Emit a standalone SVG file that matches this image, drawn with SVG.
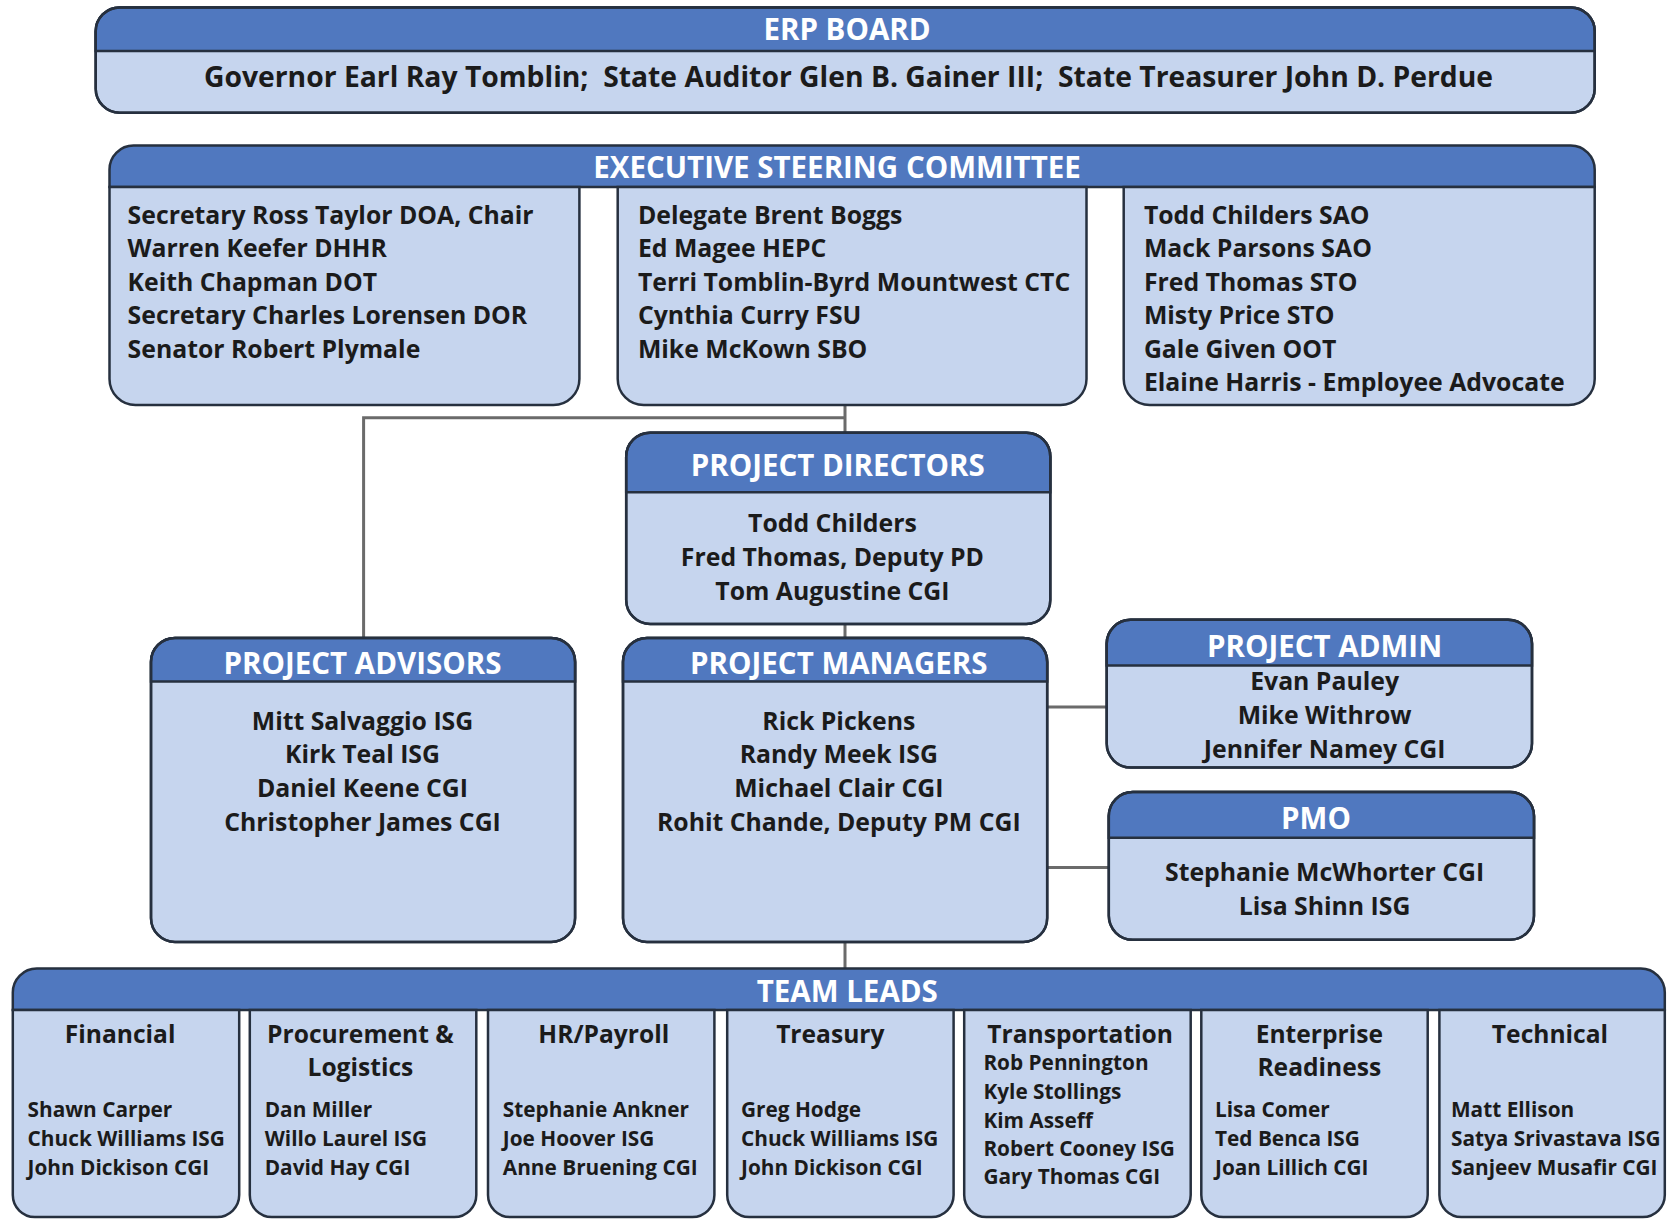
<svg xmlns="http://www.w3.org/2000/svg" width="1667" height="1219" viewBox="0 0 1667 1219">
<style>
.bd{fill:#c6d5ee;stroke:#26303f;stroke-width:2.5}
.hd{fill:#5078bf;stroke:#26303f;stroke-width:2.5}
.ol{fill:none;stroke:#26303f;stroke-width:2.5}
.ht{font-family:"Open Sans",Lato,sans-serif;font-weight:700;fill:#ffffff;font-size:29.5px;text-anchor:middle}
.nm{font-family:"Open Sans",Lato,sans-serif;font-weight:700;fill:#1b1b1b;font-size:24.8px}
.c{text-anchor:middle}
.tl{font-family:"Open Sans",Lato,sans-serif;font-weight:700;fill:#1b1b1b;font-size:20.8px}
.th{font-family:"Open Sans",Lato,sans-serif;font-weight:700;fill:#1b1b1b;font-size:24.6px;text-anchor:middle}
.conn{stroke:#6b6b6b;stroke-width:3;fill:none}
</style>
<rect width="1667" height="1219" fill="#ffffff"/>

<g id="connectors">
<path class="conn" d="M845,405 V433 M845,417.8 H363.6 V638 M845,624 V638 M1047,707 H1107 M1047,867.5 H1109 M845,942 V968.5"/>
</g>

<g id="erp-board">
<rect class="bd" x="95.7" y="7.4" width="1499" height="105.3" rx="24"/>
<path class="hd" d="M95.7,51 V31.4 A24,24 0 0 1 119.7,7.4 H1570.7 A24,24 0 0 1 1594.7,31.4 V51 Z"/>
<rect class="ol" x="95.7" y="7.4" width="1499" height="105.3" rx="24"/>
<text class="ht" x="847" y="40">ERP BOARD</text>
<text class="nm c" x="848.5" y="86.5" style="font-size:28.3px" xml:space="preserve">Governor Earl Ray Tomblin;  State Auditor Glen B. Gainer III;  State Treasurer John D. Perdue</text>
</g>

<g id="executive-steering-committee">
<path class="hd" d="M109.5,187.1 V169.6 A24,24 0 0 1 133.5,145.6 H1570.7 A24,24 0 0 1 1594.7,169.6 V187.1 Z"/>
<path class="bd" d="M109.5,187.1 H579.4 V379 A26,26 0 0 1 553.4,405 H135.5 A26,26 0 0 1 109.5,379 Z"/>
<path class="bd" d="M617.7,187.1 H1086.5 V379 A26,26 0 0 1 1060.5,405 H643.7 A26,26 0 0 1 617.7,379 Z"/>
<path class="bd" d="M1123.7,187.1 H1594.7 V379 A26,26 0 0 1 1568.7,405 H1149.7 A26,26 0 0 1 1123.7,379 Z"/>
<text class="ht" x="837" y="177.5">EXECUTIVE STEERING COMMITTEE</text>
<text class="nm" x="127.6" y="223.5">Secretary Ross Taylor DOA, Chair</text>
<text class="nm" x="127.6" y="257">Warren Keefer DHHR</text>
<text class="nm" x="127.6" y="290.5">Keith Chapman DOT</text>
<text class="nm" x="127.6" y="324">Secretary Charles Lorensen DOR</text>
<text class="nm" x="127.6" y="357.5">Senator Robert Plymale</text>
<text class="nm" x="637.9" y="223.5">Delegate Brent Boggs</text>
<text class="nm" x="637.9" y="257">Ed Magee HEPC</text>
<text class="nm" x="637.9" y="290.5">Terri Tomblin-Byrd Mountwest CTC</text>
<text class="nm" x="637.9" y="324">Cynthia Curry FSU</text>
<text class="nm" x="637.9" y="357.5">Mike McKown SBO</text>
<text class="nm" x="1143.9" y="223.5">Todd Childers SAO</text>
<text class="nm" x="1143.9" y="257">Mack Parsons SAO</text>
<text class="nm" x="1143.9" y="290.5">Fred Thomas STO</text>
<text class="nm" x="1143.9" y="324">Misty Price STO</text>
<text class="nm" x="1143.9" y="357.5">Gale Given OOT</text>
<text class="nm" x="1143.9" y="391">Elaine Harris - Employee Advocate</text>
</g>

<g id="project-directors">
<rect class="bd" x="626.2" y="432.7" width="424.1" height="191.3" rx="24"/>
<path class="hd" d="M626.2,492.2 V456.7 A24,24 0 0 1 650.2,432.7 H1026.3 A24,24 0 0 1 1050.3,456.7 V492.2 Z"/>
<rect class="ol" x="626.2" y="432.7" width="424.1" height="191.3" rx="24"/>
<text class="ht" x="837.7" y="476">PROJECT DIRECTORS</text>
<text class="nm c" x="832.4" y="532">Todd Childers</text>
<text class="nm c" x="832.4" y="566">Fred Thomas, Deputy PD</text>
<text class="nm c" x="832.4" y="600">Tom Augustine CGI</text>
</g>

<g id="project-advisors">
<rect class="bd" x="151" y="637.9" width="424.1" height="304" rx="24"/>
<path class="hd" d="M151,681.4 V661.9 A24,24 0 0 1 175,637.9 H551.1 A24,24 0 0 1 575.1,661.9 V681.4 Z"/>
<rect class="ol" x="151" y="637.9" width="424.1" height="304" rx="24"/>
<text class="ht" x="362.5" y="673.5">PROJECT ADVISORS</text>
<text class="nm c" x="362.5" y="729.5">Mitt Salvaggio ISG</text>
<text class="nm c" x="362.5" y="763">Kirk Teal ISG</text>
<text class="nm c" x="362.5" y="797">Daniel Keene CGI</text>
<text class="nm c" x="362.5" y="831">Christopher James CGI</text>
</g>

<g id="project-managers">
<rect class="bd" x="623" y="637.9" width="424.2" height="304" rx="24"/>
<path class="hd" d="M623,681.4 V661.9 A24,24 0 0 1 647,637.9 H1023.2 A24,24 0 0 1 1047.2,661.9 V681.4 Z"/>
<rect class="ol" x="623" y="637.9" width="424.2" height="304" rx="24"/>
<text class="ht" x="838.8" y="673.5">PROJECT MANAGERS</text>
<text class="nm c" x="838.8" y="729.5">Rick Pickens</text>
<text class="nm c" x="838.8" y="763">Randy Meek ISG</text>
<text class="nm c" x="838.8" y="797">Michael Clair CGI</text>
<text class="nm c" x="838.8" y="831">Rohit Chande, Deputy PM CGI</text>
</g>

<g id="project-admin">
<rect class="bd" x="1106.7" y="619.8" width="425.3" height="147.8" rx="24"/>
<path class="hd" d="M1106.7,665.5 V643.8 A24,24 0 0 1 1130.7,619.8 H1508 A24,24 0 0 1 1532,643.8 V665.5 Z"/>
<rect class="ol" x="1106.7" y="619.8" width="425.3" height="147.8" rx="24"/>
<text class="ht" x="1324.6" y="656.5">PROJECT ADMIN</text>
<text class="nm c" x="1324.6" y="690">Evan Pauley</text>
<text class="nm c" x="1324.6" y="724">Mike Withrow</text>
<text class="nm c" x="1324.6" y="758">Jennifer Namey CGI</text>
</g>

<g id="pmo">
<rect class="bd" x="1108.8" y="792" width="425.2" height="147.8" rx="24"/>
<path class="hd" d="M1108.8,837.7 V816 A24,24 0 0 1 1132.8,792 H1510 A24,24 0 0 1 1534,816 V837.7 Z"/>
<rect class="ol" x="1108.8" y="792" width="425.2" height="147.8" rx="24"/>
<text class="ht" x="1316" y="828.5">PMO</text>
<text class="nm c" x="1324.6" y="880.5">Stephanie McWhorter CGI</text>
<text class="nm c" x="1324.6" y="914.5">Lisa Shinn ISG</text>
</g>

<g id="team-leads">
<path class="hd" d="M12.8,1010 V992.5 A24,24 0 0 1 36.8,968.5 H1640.8 A24,24 0 0 1 1664.8,992.5 V1010 Z"/>
<text class="ht" x="847.3" y="1001.5">TEAM LEADS</text>
</g>

<g id="team-financial">
<path class="bd" d="M12.8,1010 H239.2 V1195 A22,22 0 0 1 217.2,1217 H34.8 A22,22 0 0 1 12.8,1195 Z"/>
<text class="th" x="120.1" y="1043">Financial</text>
<text class="tl" x="27.6" y="1117">Shawn Carper</text>
<text class="tl" x="27.6" y="1146">Chuck Williams ISG</text>
<text class="tl" x="27.6" y="1174.5">John Dickison CGI</text>
</g>

<g id="team-procurement">
<path class="bd" d="M249.8,1010 H476.3 V1195 A22,22 0 0 1 454.3,1217 H271.8 A22,22 0 0 1 249.8,1195 Z"/>
<text class="th" x="360.4" y="1043">Procurement &amp;</text>
<text class="th" x="360.4" y="1076">Logistics</text>
<text class="tl" x="264.7" y="1117">Dan Miller</text>
<text class="tl" x="264.7" y="1146">Willo Laurel ISG</text>
<text class="tl" x="264.7" y="1174.5">David Hay CGI</text>
</g>

<g id="team-hr">
<path class="bd" d="M488,1010 H714.4 V1195 A22,22 0 0 1 692.4,1217 H510 A22,22 0 0 1 488,1195 Z"/>
<text class="th" x="603.8" y="1043">HR/Payroll</text>
<text class="tl" x="502.8" y="1117">Stephanie Ankner</text>
<text class="tl" x="502.8" y="1146">Joe Hoover ISG</text>
<text class="tl" x="502.8" y="1174.5">Anne Bruening CGI</text>
</g>

<g id="team-treasury">
<path class="bd" d="M727.2,1010 H953.6 V1195 A22,22 0 0 1 931.6,1217 H749.2 A22,22 0 0 1 727.2,1195 Z"/>
<text class="th" x="830.3" y="1043">Treasury</text>
<text class="tl" x="741" y="1117">Greg Hodge</text>
<text class="tl" x="741" y="1146">Chuck Williams ISG</text>
<text class="tl" x="741" y="1174.5">John Dickison CGI</text>
</g>

<g id="team-transportation">
<path class="bd" d="M964.2,1010 H1190.7 V1195 A22,22 0 0 1 1168.7,1217 H986.2 A22,22 0 0 1 964.2,1195 Z"/>
<text class="th" x="1080.1" y="1043">Transportation</text>
<text class="tl" x="983.4" y="1070">Rob Pennington</text>
<text class="tl" x="983.4" y="1099">Kyle Stollings</text>
<text class="tl" x="983.4" y="1127.5">Kim Asseff</text>
<text class="tl" x="983.4" y="1155.5">Robert Cooney ISG</text>
<text class="tl" x="983.4" y="1184">Gary Thomas CGI</text>
</g>

<g id="team-enterprise">
<path class="bd" d="M1201.3,1010 H1427.7 V1195 A22,22 0 0 1 1405.7,1217 H1223.3 A22,22 0 0 1 1201.3,1195 Z"/>
<text class="th" x="1319.3" y="1043">Enterprise</text>
<text class="th" x="1319.3" y="1076">Readiness</text>
<text class="tl" x="1215" y="1117">Lisa Comer</text>
<text class="tl" x="1215" y="1146">Ted Benca ISG</text>
<text class="tl" x="1215" y="1174.5">Joan Lillich CGI</text>
</g>

<g id="team-technical">
<path class="bd" d="M1439.4,1010 H1664.8 V1195 A22,22 0 0 1 1642.8,1217 H1461.4 A22,22 0 0 1 1439.4,1195 Z"/>
<text class="th" x="1550" y="1043">Technical</text>
<text class="tl" x="1451" y="1117">Matt Ellison</text>
<text class="tl" x="1451" y="1146">Satya Srivastava ISG</text>
<text class="tl" x="1451" y="1174.5">Sanjeev Musafir CGI</text>
</g>
</svg>
